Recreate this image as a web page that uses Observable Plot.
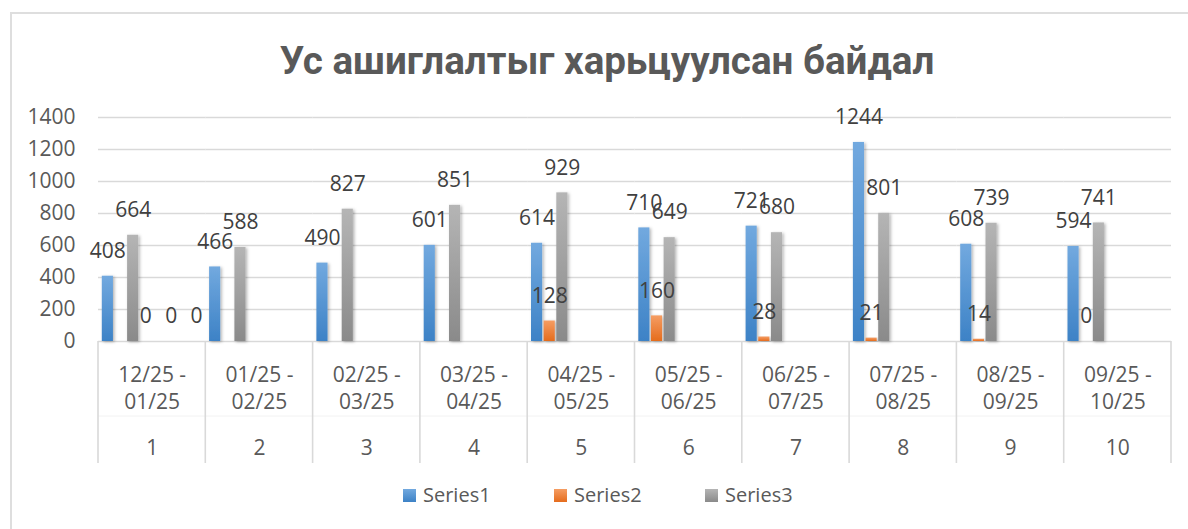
<!DOCTYPE html>
<html>
<head>
<meta charset="utf-8">
<script src="https://cdn.jsdelivr.net/npm/d3@7"></script>
<script src="https://cdn.jsdelivr.net/npm/@observablehq/plot@0.6"></script>
<style>
  body { margin: 0; background: #fff; }
  #wrap { position: relative; width: 1188px; height: 529px; overflow: hidden; font-family: "Open Sans", sans-serif; }
  #frame { position: absolute; left: 10px; top: 12px; width: 1300px; height: 600px; border: 2px solid #dedede; box-sizing: border-box; }
  #title { position: absolute; left: 0; top: 0; }
  #chart { position: absolute; left: 0; top: 100px; }
  #legend { position: absolute; left: 403px; top: 484px; display: flex; height: 22px; }
  .item { width: 151px; display: flex; align-items: center; font-size: 20px; color: #595959; line-height: 22px; }
  .sw { width: 13px; height: 13px; margin-right: 7px; flex: none; }
</style>
</head>
<body>
<div id="wrap">
  <div id="frame"></div>
  <div id="title"></div>
  <div id="chart"></div>
  <div id="legend"></div>
</div>
<script>
// ---- data ----
const titleText = "Ус ашиглалтыг харьцуулсан байдал";
const categories = ["1", "2", "3", "4", "5", "6", "7", "8", "9", "10"];
const periods = ["12/25 -\n01/25", "01/25 -\n02/25", "02/25 -\n03/25", "03/25 -\n04/25", "04/25 -\n05/25",
                 "05/25 -\n06/25", "06/25 -\n07/25", "07/25 -\n08/25", "08/25 -\n09/25", "09/25 -\n10/25"];
const seriesNames = ["Series1", "Series2", "Series3"];
const series1 = [408, 466, 490, 601, 614, 710, 721, 1244, 608, 594];
const series2 = [null, null, null, null, 128, 160, 28, 21, 14, 0];
const series3 = [664, 588, 827, 851, 929, 649, 680, 801, 739, 741];
// empty series slots present in the source chart (not in legend)
const emptySlotNames = ["Series4", "Series5", "Series6", "Series7", "Series8"];
// stray zero labels of the empty series in category 1
const strayLabelSeries = ["Series4", "Series6", "Series8"];
const strayLabelValues = [0, 0, 0];
const yTicks = [0, 200, 400, 600, 800, 1000, 1200, 1400];
const seriesColors = {
  Series1: ["#72a9df", "#3d82c6"],
  Series2: ["#f59d63", "#e56c1d"],
  Series3: ["#b5b5b5", "#8a8a8a"]
};

// ---- tables ----
const allSeries = [series1, series2, series3];
const rows = [];
categories.forEach((c, i) => {
  seriesNames.forEach((s, j) => {
    rows.push({cat: c, series: s, value: allSeries[j][i]});
  });
});
const strayRows = strayLabelSeries.map((s, i) => ({cat: categories[0], series: s, value: strayLabelValues[i]}));
const catRows = categories.map((c, i) => ({cat: c, period: periods[i]}));
const slots = seriesNames.concat(emptySlotNames);

const chart = Plot.plot({
  width: 1188,
  height: 370,
  marginLeft: 98,
  marginRight: 17,
  marginTop: 17,
  marginBottom: 129,
  style: {fontFamily: "Open Sans, sans-serif", fontSize: "21px", color: "#595959", background: "transparent"},
  fx: {domain: categories, padding: 0, round: false, axis: null},
  x: {domain: slots, paddingInner: 0.12, paddingOuter: 0.3, round: false, axis: null},
  y: {domain: [0, 1400], ticks: yTicks, tickSize: 0, tickPadding: 23, tickFormat: d => String(d), label: null},
  color: {domain: seriesNames, range: seriesNames.map(s => `url(#grad-${s})`)},
  marks: [
    Plot.gridY(yTicks, {stroke: "#d9d9d9", strokeOpacity: 1, strokeWidth: 1.4}),
    Plot.barY(rows, {fx: "cat", x: "series", y: "value", fill: "series"}),
    Plot.text(rows.filter(d => d.value != null), {
      fx: "cat", x: "series", y: "value", text: d => String(d.value),
      dy: -25, fill: "#404040", fontSize: 21
    }),
    Plot.text(strayRows, {
      fx: "cat", x: "series", y: "value", text: d => String(d.value),
      dy: -25, fill: "#404040", fontSize: 21
    }),
    Plot.text(catRows, {
      fx: "cat", text: "period", frameAnchor: "bottom", lineAnchor: "middle", dy: 45, lineHeight: 1.29,
      fill: "#595959", fontSize: 21
    }),
    Plot.text(catRows, {
      fx: "cat", text: "cat", frameAnchor: "bottom", lineAnchor: "middle", dy: 107,
      fill: "#595959", fontSize: 21
    })
  ]
});
document.getElementById("chart").appendChild(chart);

// ---- gradients & shadow ----
const svg = d3.select(chart);
const defs = svg.insert("defs", ":first-child");
seriesNames.forEach(s => {
  const g = defs.append("linearGradient").attr("id", `grad-${s}`)
    .attr("x1", 0).attr("y1", 0).attr("x2", 0).attr("y2", 1);
  g.append("stop").attr("offset", "0%").attr("stop-color", seriesColors[s][0]);
  g.append("stop").attr("offset", "100%").attr("stop-color", seriesColors[s][1]);
});
const f = defs.append("filter").attr("id", "barShadow")
  .attr("x", "-50%").attr("y", "-10%").attr("width", "200%").attr("height", "120%");
f.append("feDropShadow").attr("dx", 1.5).attr("dy", 1).attr("stdDeviation", 1.6)
  .attr("flood-color", "#000").attr("flood-opacity", 0.3);
svg.selectAll('g[aria-label="bar"] rect').attr("filter", "url(#barShadow)");

// ---- category axis separators (from Plot's fx and y scales) ----
const fxS = chart.scale("fx");
const yS = chart.scale("y");
const band = d3.scaleBand().domain(fxS.domain).range(fxS.range).padding(0);
const y0 = Math.max(...yS.range);
const sep = svg.append("g");
const xs = fxS.domain.map(d => band(d)).concat([band(fxS.domain[fxS.domain.length - 1]) + band.bandwidth()]);
sep.append("line").attr("x1", xs[0]).attr("x2", xs[xs.length - 1])
  .attr("y1", y0 + 75).attr("y2", y0 + 75).attr("stroke", "#f2f2f2").attr("stroke-width", 1);
xs.forEach(x => {
  sep.append("line").attr("x1", x).attr("x2", x).attr("y1", y0).attr("y2", y0 + 122)
    .attr("stroke", "#d9d9d9").attr("stroke-width", 1.6);
});

// ---- title ----
const tsvg = d3.select("#title").append("svg").attr("width", 1188).attr("height", 100);
const tt = tsvg.append("text").attr("x", 607).attr("y", 74).attr("text-anchor", "middle")
  .attr("fill", "#595959").attr("font-weight", "bold")
  .attr("font-family", "Roboto, 'Open Sans', sans-serif").attr("font-size", 36).text(titleText);
const len = tt.node().getComputedTextLength();
tt.attr("font-size", 36 * 655 / len);

// ---- legend ----
const legend = d3.select("#legend");
seriesNames.forEach(s => {
  const it = legend.append("div").attr("class", "item");
  it.append("div").attr("class", "sw")
    .style("background", `linear-gradient(${seriesColors[s][0]}, ${seriesColors[s][1]})`);
  it.append("span").text(s);
});
</script>
</body>
</html>
